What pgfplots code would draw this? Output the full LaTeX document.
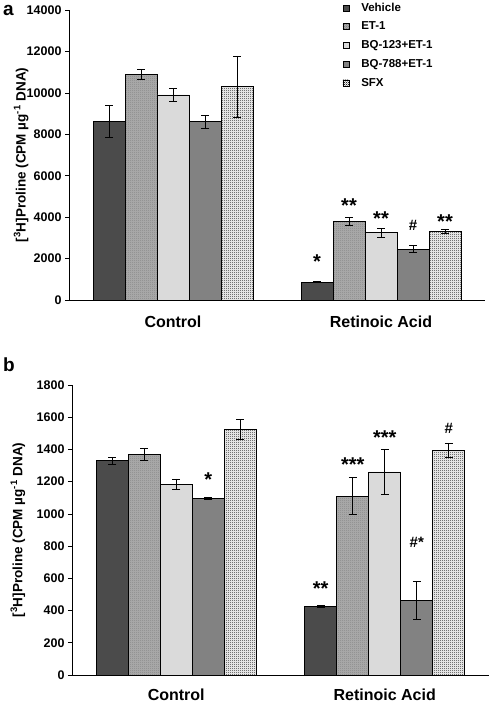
\documentclass[border=0pt]{standalone}
\usepackage{pgfplots}
\usepackage{pgfplotstable}
\pgfplotsset{compat=1.18}
\usepackage{fontspec}
\setmainfont{Liberation Sans}
\usetikzlibrary{patterns.meta}

\pgfdeclarepattern{
  name=checker,
  parameters={},
  bottom left={\pgfpoint{0pt}{0pt}},
  top right={\pgfpoint{2pt}{2pt}},
  tile size={\pgfpoint{2pt}{2pt}},
  code={
    \pgfpathrectangle{\pgfpoint{0pt}{0pt}}{\pgfpoint{1pt}{1pt}}
    \pgfpathrectangle{\pgfpoint{1pt}{1pt}}{\pgfpoint{1pt}{1pt}}
    \pgfusepath{fill}
  }
}

\definecolor{cveh}{HTML}{4B4B4B}
\definecolor{cbqa}{HTML}{DADADA}
\definecolor{cbqb}{HTML}{828282}

% panel a
\pgfplotstableread{
x veh vehE et etE bqa bqaE bqb bqbE sfx sfxE
0 8600 770 10900 230 9900 320 8600 330 10300 1480
1 860 30 3780 200 3240 200 2450 170 3300 90
}\tabA
% panel b
\pgfplotstableread{
x veh vehE et etE bqa bqaE bqb bqbE sfx sfxE
0 1330 20 1370 38 1185 32 1098 6 1525 62
1 424 6 1110 115 1260 140 465 118 1395 45
}\tabB

\tikzset{
  ann/.style={font=\bfseries\fontsize{15}{15}\selectfont, anchor=center, inner sep=0pt},
  star/.style={font=\bfseries\fontsize{20}{20}\selectfont, anchor=center, inner sep=0pt, yshift=-4pt},
  sveh/.style={fill=cveh},
  set/.style={fill=gray!65, postaction={pattern=checker, pattern color=gray!95}},
  sbqa/.style={fill=cbqa},
  sbqb/.style={fill=cbqb},
  ssfx/.style={fill=white, postaction={pattern=checker, pattern color=black!85}},
}

\pgfplotsset{
  myaxis/.style={
    scale only axis, width=416pt, height=290pt,
    anchor=south west,
    ybar=0pt, bar width=32pt,
    xmin=-0.5, xmax=1.5, ymin=0,
    axis x line=bottom, axis y line=left,
    axis line style={-, black, line width=0.6pt},
    xtick={0,1}, xticklabels={Control,Retinoic Acid},
    major x tick style={draw=none},
    extra x ticks={0.5,1.5}, extra x tick labels={},
    extra x tick style={major tick length=4pt, tick align=outside, tick style={black, line width=0.6pt}},
    xticklabel style={font=\bfseries\fontsize{16}{16}\selectfont},
    yticklabel style={font=\bfseries\fontsize{12.5}{12.5}\selectfont},
    scaled y ticks=false,
    /pgf/number format/assume math mode=true,
    /pgf/number format/1000 sep={},
    y tick style={black, line width=0.6pt},
    major tick length=4pt, tick align=outside,
    ylabel style={font=\bfseries\fontsize{13.5}{13.5}\selectfont},
    every axis plot/.append style={draw=black, line width=0.8pt,
      error bars/error bar style={black, line width=0.8pt},
      error bars/error mark options={rotate=90, black, mark size=4pt, line width=0.8pt}},
    area legend,
    legend image code/.code={\draw[#1, line width=0.6pt] (0pt,-3pt) rectangle (6pt,3pt);},
    clip=false,
  },
}

\newcommand{\ylab}{[\textsuperscript{3}H]Proline (CPM µg\textsuperscript{-1} DNA)}

\begin{document}
\begin{tikzpicture}
\useasboundingbox (0,0) rectangle (492pt,703pt);

\node[font=\bfseries\fontsize{19}{19}\selectfont, anchor=north west, inner sep=0pt] at (3pt,698pt) {a};
\node[font=\bfseries\fontsize{19}{19}\selectfont, anchor=north west, inner sep=0pt] at (3pt,345pt) {b};

\begin{axis}[myaxis, at={(69pt,403pt)}, ymax=14000, ytick={0,2000,...,14000},
  xticklabel style={yshift=-8pt},
  ylabel={\ylab},
  ylabel style={at={(axis description cs:-0.115,0.5)}, anchor=center},
  legend style={draw=none, fill=none, at={(axis description cs:0.655,1.035)}, anchor=north west,
    font=\bfseries\fontsize{11.5}{11.5}\selectfont, row sep=5.2pt, inner sep=1pt,
    /tikz/every odd column/.style={column sep=10pt}},
  legend cell align=left]
\addplot[sveh, error bars/.cd, y dir=both, y explicit] table[x=x, y=veh, y error=vehE]{\tabA};
\addplot[set, error bars/.cd, y dir=both, y explicit] table[x=x, y=et, y error=etE]{\tabA};
\addplot[sbqa, error bars/.cd, y dir=both, y explicit] table[x=x, y=bqa, y error=bqaE]{\tabA};
\addplot[sbqb, error bars/.cd, y dir=both, y explicit] table[x=x, y=bqb, y error=bqbE]{\tabA};
\addplot[ssfx, error bars/.cd, y dir=both, y explicit] table[x=x, y=sfx, y error=sfxE]{\tabA};
\legend{Vehicle, ET-1, BQ-123+ET-1, BQ-788+ET-1, SFX}
\node[star] at (axis cs:0.6923,2030) {*};
\node[star] at (axis cs:0.8462,4730) {**};
\node[star] at (axis cs:1.0,4100) {**};
\node[ann] at (axis cs:1.1538,3580) {\#};
\node[star] at (axis cs:1.3077,4000) {**};
\end{axis}

\begin{axis}[myaxis, at={(72pt,28pt)}, width=417pt, ymax=1800, ytick={0,200,...,1800},
  xticklabel style={yshift=-6pt},
  ylabel={\ylab},
  ylabel style={at={(axis description cs:-0.13,0.5)}, anchor=center}]
\addplot[sveh, error bars/.cd, y dir=both, y explicit] table[x=x, y=veh, y error=vehE]{\tabB};
\addplot[set, error bars/.cd, y dir=both, y explicit] table[x=x, y=et, y error=etE]{\tabB};
\addplot[sbqa, error bars/.cd, y dir=both, y explicit] table[x=x, y=bqa, y error=bqaE]{\tabB};
\addplot[sbqb, error bars/.cd, y dir=both, y explicit] table[x=x, y=bqb, y error=bqbE]{\tabB};
\addplot[ssfx, error bars/.cd, y dir=both, y explicit] table[x=x, y=sfx, y error=sfxE]{\tabB};
\node[star] at (axis cs:0.1538,1238) {*};
\node[star] at (axis cs:0.6923,559) {**};
\node[star] at (axis cs:0.8462,1329) {***};
\node[star] at (axis cs:1.0,1497) {***};
\node[ann] at (axis cs:1.1538,822) {\#*};
\node[ann] at (axis cs:1.3077,1528) {\#};
\end{axis}
\end{tikzpicture}
\end{document}
